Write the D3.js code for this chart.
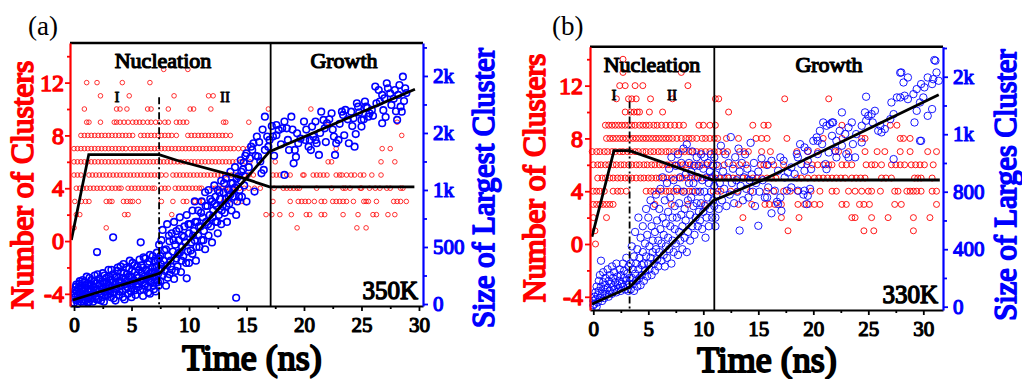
<!DOCTYPE html>
<html>
<head>
<meta charset="utf-8">
<script src="https://cdn.jsdelivr.net/npm/d3@7"></script>
<style>
  body { margin: 0; background: #fff; }
  svg { display: block; }
  /* bold serif is faked with a thin stroke on the regular face */
  svg text { font-family: "Liberation Serif", "Times New Roman", serif; font-weight: normal; stroke-linejoin: round; }
</style>
</head>
<body>
<svg id="chart" width="1022" height="379"></svg>
<script>
// ---------- panel (a), 350K ----------
// number of clusters: [value, [times (ns)]]
const countA = [
  [13, [7.8, 9.9]],
  [12, [1.1, 2.0, 4.2, 6.6]],
  [11, [2.3, 4.8, 8.7, 11.7, 12.1]],
  [10, [0.9, 3.7, 4.0, 4.6, 6.4, 6.7, 8.2, 10.1, 10.4, 11.9, 16.9, 20.6]],
  [9, [1.1, 1.3, 2.3, 3.5, 3.7, 4.0, 4.35, 4.7, 5.1, 5.4, 5.7, 6.0, 6.4, 6.7, 7.1, 7.45, 7.9, 8.2, 8.9, 9.2, 9.5, 9.8, 13.0, 13.2, 15.2, 22.1, 28.1]],
  [8, [0.6, 0.9, 1.2, 1.5, 1.8, 2.1, 2.4, 2.7, 3.0, 3.3, 3.6, 3.9, 4.2, 4.5, 4.8, 5.1, 5.8, 6.1, 6.4, 6.7, 7.0, 7.3, 7.6, 7.9, 8.2, 8.5, 8.9,
       9.9, 10.2, 10.5, 10.8, 11.1, 11.4, 11.7, 12.0, 12.3, 12.6, 12.9, 13.2, 13.6, 28.5]],
  [7, [0.0, 0.3, 0.6, 0.9, 1.2, 1.5, 1.8, 2.1, 2.4, 2.7, 3.0, 3.3, 3.6, 3.9, 4.2, 4.5, 4.9, 5.2, 5.5, 5.8, 6.1, 6.4, 6.7, 7.0, 7.3, 7.6,
       7.9, 8.2, 8.5, 8.8, 9.1, 9.4, 9.7, 10.0, 10.3, 10.6, 10.9, 11.2, 11.5, 11.8, 12.1, 12.4, 12.7, 13.0, 13.3, 13.6, 13.9, 14.3, 14.7, 15.1,
       22.8, 26.8, 27.5]],
  [6, [0.0, 0.3, 0.6, 0.9, 1.2, 1.5, 1.8, 2.1, 2.4, 2.7, 3.0, 3.3, 3.6, 3.9, 4.2, 4.5, 4.8, 5.1, 5.4, 5.7, 6.0, 6.3, 6.6, 6.9, 7.2, 7.5,
       7.8, 8.1, 8.4, 8.7, 9.0, 9.3, 9.6, 9.9, 10.2, 10.5, 10.8, 11.1, 11.4, 11.7, 12.0, 12.3, 12.6, 12.9, 13.2, 13.5, 13.8, 14.1, 14.5, 14.9, 15.3,
       17.5, 22.1, 22.4, 26.7, 27.9]],
  [5, [0.0, 0.3, 0.6, 1.3, 1.6, 1.9, 2.2, 2.5, 2.8, 3.1, 3.4, 3.7, 4.0, 4.3, 4.6, 4.9, 5.2, 5.5, 5.8, 6.1, 6.4, 6.7, 7.0, 7.3, 7.6, 8.0,
       8.6, 8.9, 9.2, 9.5, 9.8, 10.1, 10.4, 10.7, 11.0, 11.3, 11.6, 11.9, 12.2, 12.5, 12.8, 13.1, 13.4, 13.7, 14.0, 14.4, 14.8, 15.2, 15.6,
       17.3, 17.6, 17.9, 18.5, 18.8, 19.9, 20.0, 20.8, 21.1, 21.4, 21.7, 22.0, 22.8, 23.1, 23.3, 23.7, 24.1, 24.4, 24.9, 25.2, 25.9, 26.7]],
  [4, [0.2, 0.5, 0.8, 1.1, 1.4, 1.7, 2.0, 2.3, 2.6, 3.0, 3.3, 3.6, 3.9, 4.1, 4.7, 5.0, 5.3, 5.6, 5.9, 6.2, 6.5, 6.8, 7.0, 7.6, 7.9, 8.2,
       8.8, 9.1, 9.4, 9.7, 10.0, 10.3, 10.6, 10.9, 11.1, 12.0, 12.3, 12.6, 12.9, 13.2, 13.5, 13.8, 14.1, 14.4, 14.8, 15.2, 15.7, 16.2,
       17.4, 18.2, 18.5, 18.8, 19.1, 19.4, 19.6, 21.1, 22.4, 23.4, 23.6, 24.0, 24.9, 25.0, 25.7, 26.2, 26.6, 27.2, 27.5, 28.4, 28.6]],
  [3, [0.07, 0.64, 1.0, 1.3, 2.8, 3.1, 3.3, 4.3, 4.6, 4.9, 5.1, 5.6, 7.6, 8.6, 9.5, 9.8, 10.5, 10.9, 11.2, 13.0, 13.4, 14.0, 14.6,
       17.3, 18.8, 19.5, 19.8, 20.1, 20.4, 20.9, 21.5, 21.8, 22.5, 22.8, 23.1, 23.4, 23.7, 24.3, 25.2, 25.4, 25.6, 26.3, 27.8, 28.1, 28.4, 28.9]],
  [2, [0.2, 0.5, 4.4, 4.7, 8.5, 16.7, 17.2, 17.9, 18.9, 20.2, 20.5, 21.5, 21.8, 23.4, 24.7, 26.0, 26.3, 27.3, 27.9]],
  [1, [0.0, 2.8, 19.4, 24.6, 25.4]]
];
// size of largest cluster: [time (ns), size]
const sizeA = [
  [0.0,10],[0.1,60],[0.1,120],[0.2,30],[0.2,170],[0.3,80],[0.3,0],[0.4,140],[0.4,50],[0.5,100],[0.5,200],[0.6,20],[0.6,160],[0.7,70],
  [0.8,120],[0.8,40],[0.9,190],[0.9,90],[1.0,30],[1.0,140],[1.1,240],[1.1,60],[1.2,110],[1.2,10],[1.3,170],[1.3,20],[1.4,80],[1.5,130],
  [1.5,210],[1.6,50],[1.7,150],[1.7,100],[1.8,250],[1.9,70],[1.9,180],[2.0,120],[2.0,455],[2.1,40],[2.2,160],[2.2,220],[2.3,90],
  [2.4,130],[2.5,270],[2.5,60],[2.6,190],[2.6,20],[2.7,110],[2.8,150],[2.8,230],[2.9,80],[3.0,170],[3.0,300],[3.1,120],[3.2,60],
  [3.2,210],[3.3,150],[3.4,585],[3.4,260],[3.5,100],[3.6,180],[3.6,30],[3.7,240],[3.7,130],[3.8,320],[3.9,80],[4.0,200],[4.0,160],
  [4.1,280],[4.2,110],[4.3,230],[4.3,350],[4.4,170],[4.4,40],[4.5,130],[4.6,260],[4.6,200],[4.7,90],[4.8,310],[4.9,180],[5.0,240],
  [5.0,140],[5.0,60],[5.1,360],[5.2,210],[5.3,280],[5.3,120],[5.4,170],[5.5,330],[5.6,230],[5.6,150],[5.7,390],[5.8,541],[5.8,200],
  [5.9,270],[6.0,130],[6.0,320],[6.0,70],[6.1,240],[6.2,180],[6.2,400],[6.3,290],[6.4,150],[6.4,350],[6.5,220],[6.6,270],[6.6,430],
  [6.6,90],[6.7,190],[6.8,320],[6.8,240],[6.9,160],[7.0,380],[7.0,280],[7.1,220],[7.1,110],[7.2,330],[7.2,450],[7.3,260],[7.3,190],
  [7.4,400],[7.4,300],[7.4,520],
  [0.05,90],[0.15,150],[0.25,110],[0.35,40],[0.45,180],[0.55,60],[0.65,130],[0.75,210],[0.85,20],[0.95,160],[1.05,90],[1.15,180],
  [1.25,50],[1.35,230],[1.45,110],[1.55,170],[1.65,20],[1.75,200],[1.85,120],[1.95,40],[2.05,260],[2.15,110],[2.25,180],[2.35,30],
  [2.45,200],[2.55,140],[2.65,250],[2.75,70],[2.85,190],[2.95,120],[3.05,240],[3.15,90],[3.25,300],[3.35,190],[3.45,50],[3.55,230],
  [3.65,140],[3.75,290],[3.85,200],[3.95,110],[4.05,330],[4.15,190],[4.25,60],[4.35,270],[4.45,220],[4.55,320],[4.65,150],[4.75,240],
  [4.85,380],[4.95,110],[5.05,290],[5.15,200],[5.25,340],[5.35,80],[5.45,250],[5.55,180],[5.65,300],[5.75,120],[5.85,340],[5.95,220],
  [6.05,410],[6.15,160],[6.25,300],[6.35,230],[6.45,100],[6.55,370],[6.65,200],[6.75,280],[6.85,420],[6.95,130],[7.05,320],[7.15,250],
  [7.25,390],[7.35,160],
  [7.5,200],[7.5,420],[7.6,310],[7.6,560],[7.7,250],[7.7,650],[7.8,380],[7.9,290],[8.0,480],[8.0,160],[8.1,340],[8.1,700],[8.2,420],
  [8.3,260],[8.3,550],[8.4,380],[8.5,620],[8.5,300],[8.6,460],[8.7,720],[8.7,220],[8.8,520],[8.9,400],[8.9,640],[9.0,330],[9.1,560],
  [9.2,760],[9.2,450],[9.3,280],[9.4,600],[9.4,500],[9.5,420],[9.6,680],[9.7,540],[9.8,225],[9.8,780],[9.9,460],[10.0,620],[10.0,360],
  [10.1,700],[10.2,540],[10.3,820],[10.3,440],[10.4,640],[10.5,560],[10.5,900],[10.6,380],[10.7,720],[10.8,600],[10.8,820],[10.9,500],
  [11.0,680],[11.1,900],[11.1,560],[11.2,760],[11.3,640],[11.4,980],[11.4,480],[11.5,720],[11.6,860],[11.7,600],[11.7,1000],[11.8,780],
  [11.9,680],[12.0,900],[12.0,540],[12.1,820],[12.2,1040],[12.3,720],[12.3,940],[12.4,860],[12.5,620],[12.5,1000],[12.6,780],[12.7,920],
  [12.8,1080],[12.8,700],[12.9,860],[13.0,980],[13.1,800],[13.2,1100],[13.2,920],[13.3,720],[13.4,1000],[13.5,880],[13.6,1160],
  [13.6,960],[13.7,820],[13.8,1060],[13.9,940],[14.0,1200],[14.0,1020],[14.1,781],[14.1,55],[14.2,900],[14.3,1120],[14.4,1000],[14.5,1260],
  [14.5,1080],[14.6,940],[14.7,1180],[14.8,1040],[14.9,1300],[14.9,1120],
  [7.55,350],[7.85,470],[8.15,230],[8.25,600],[8.45,330],[8.65,560],[8.85,290],[9.05,440],[9.15,660],[9.35,380],[9.55,590],[9.75,360],
  [9.95,700],[10.15,470],[10.35,600],[10.55,720],[10.65,500],[10.85,680],[11.05,800],[11.25,560],[11.45,860],[11.65,700],[11.85,920],
  [12.05,760],[12.25,880],[12.45,720],[12.65,980],[12.85,820],[13.05,1060],[13.25,860],[13.45,940],[13.65,1060],[13.85,1000],[14.15,1100],
  [14.35,940],[14.55,1160],[14.75,1240],
  [15.0,1322],[15.3,1278],[15.6,1410],[15.9,1468],[15.5,1351],[16.0,1293],[16.3,1146],[16.5,1176],[16.6,1643],[16.8,1468],[16.6,1351],
  [17.0,1439],[17.3,1468],[17.6,1570],[17.8,1527],[18.1,1541],[18.5,1541],[18.6,1439],[18.9,1643],[19.2,1351],[19.4,1497],[19.5,1410],
  [20.0,1600],[20.1,1439],[20.4,1380],[20.5,1439],[20.7,1556],[20.8,1468],[21.0,1439],[21.1,1410],[21.3,1307],[21.5,1687],[21.7,1614],
  [21.8,1541],[22.0,1585],[22.4,1673],[22.6,1468],[22.7,1307],[22.8,1410],[23.0,1439],[23.3,1687],[23.4,1658],[23.6,1702],[23.9,1410],
  [24.1,1687],[24.3,1629],[24.4,1380],[24.6,1760],[24.7,1731],[25.0,1556],[25.0,1614],[25.3,1775],[25.4,1731],[25.6,1643],[25.7,1673],
  [25.9,1702],[26.2,1907],[26.5,1877],[26.6,1775],[26.8,1585],[26.8,1834],[27.0,1804],[27.2,1936],[27.3,1892],[27.5,1848],[27.6,1746],
  [27.9,1877],[28.1,1614],[28.2,1834],[28.4,1731],[28.5,1687],[28.6,1994],[28.8,1892],[18.3,1132],[19.1,1234],[15.7,986],[15.0,898],
  [15.2,1200],[15.4,1380],[15.8,1300],[16.1,1420],[16.2,1250],[16.4,1530],[16.9,1380],[17.2,1560],[17.4,1300],[17.6,1480],[18.0,1400],
  [18.3,1600],[18.7,1350],[19.0,1530],[19.3,1290],[19.7,1450],[20.2,1530],[20.6,1350],[21.0,1600],[21.4,1500],[21.9,1420],[22.2,1620],
  [22.5,1530],[23.1,1580],[23.5,1480],[23.8,1620],[24.2,1560],[24.5,1490],[24.8,1680],[25.2,1620],[25.5,1720],[26.0,1650],[26.3,1760],
  [26.9,1700],[27.1,1640],[27.8,1800],[28.0,1690],[28.3,1920],[28.7,1780],[28.9,1850]
];
const countFitA = [[-0.23, 0.08], [1.28, 6.55], [7.4, 6.55], [9.0, 6.1], [14.8, 4.75], [17.0, 4.1], [29.6, 4.1]];
const sizeFitA = [[-0.1, 35], [7.45, 269], [14.85, 1088], [17.0, 1336], [29.65, 1883]];
const sizeTicksA = [0, 500, 1000, 1500, 2000];
const sizeLabelsA = ["0", "500", "1k", "2k", "2k"];

// ---------- panel (b), 330K ----------
const countB = [
  [14, [2.7]],
  [13, [2.7, 8.0]],
  [12, [2.4, 2.9, 3.8, 4.5, 8.6]],
  [11, [2.1, 3.2, 3.5, 3.9, 5.2, 7.2, 11.1, 11.4, 17.4, 21.4]],
  [10, [2.9, 3.4, 3.7, 4.0, 4.2, 5.1, 6.3, 12.3]],
  [9, [1.1, 1.4, 1.7, 2.0, 2.3, 2.6, 2.9, 3.2, 3.5, 3.8, 4.2, 4.5, 4.8, 5.1, 5.5, 5.8, 6.2, 6.6, 7.0, 7.4, 7.8, 8.2,
       9.6, 10.0, 10.6, 11.1, 14.5, 15.5, 15.9, 22.6, 27.0, 27.6]],
  [8, [1.2, 1.5, 1.8, 2.1, 2.4, 2.7, 3.0, 3.3, 3.6, 3.9, 4.2, 4.5, 4.8, 5.1, 5.4, 5.7, 6.0, 6.3, 6.6, 6.9, 7.2, 7.6, 8.0, 8.4, 8.7, 9.0, 9.4,
       9.9, 10.2, 10.6, 11.0, 11.3, 12.1, 13.2, 14.8, 15.3, 15.8, 17.6, 20.9, 22.6, 24.4, 24.7, 27.9, 28.2, 28.8]],
  [7, [-0.1, 0.3, 0.6, 1.0, 1.3, 1.7, 2.0, 2.4, 2.7, 3.1, 3.4, 3.8, 4.1, 4.5, 4.8, 5.2, 5.5, 5.9, 6.2, 6.6, 6.9, 7.3, 7.6, 8.0, 8.3, 8.7,
       9.0, 9.4, 9.8, 10.2, 10.6, 11.0, 11.4, 11.8, 12.2, 13.3, 13.7, 14.1, 15.3,
       16.1, 18.5, 19.5, 20.4, 22.0, 22.3, 23.2, 24.7, 25.8, 26.5, 27.9, 28.8, 30.4, 31.2]],
  [6, [0.0, 0.4, 0.7, 1.1, 1.4, 1.8, 2.1, 2.5, 2.8, 3.2, 3.5, 3.9, 4.2, 4.6, 4.9, 5.3, 5.6, 6.0, 6.3, 6.7, 7.0, 7.4, 7.7, 8.1, 8.4, 8.8,
       9.1, 9.5, 9.9, 10.3, 10.7, 11.2, 11.9, 12.7, 13.3, 13.9, 15.2,
       15.5, 15.9, 16.4, 17.3, 19.4, 19.9, 20.4, 20.9, 21.4, 21.7, 22.6, 23.0, 23.5, 24.8, 25.3, 25.6, 26.2, 27.1, 27.5, 27.9, 28.3, 28.9,
       29.3, 29.7, 30.1, 30.9]],
  [5, [0.4, 0.8, 1.1, 1.5, 1.8, 2.2, 2.5, 2.9, 3.2, 3.5, 3.9, 4.3, 4.6, 5.0, 5.3, 5.7, 6.0, 6.4, 6.7, 7.1, 7.4, 7.8, 8.1, 8.5, 8.8, 9.2,
       9.5, 9.9, 10.3, 10.7, 11.1, 11.5, 11.9, 12.3, 12.7, 13.1, 13.6, 14.0, 14.5, 14.9, 15.3, 15.8, 16.2, 16.6,
       18.5, 18.9, 19.5, 20.1, 20.5, 20.9, 21.3, 21.7, 22.1, 22.5, 22.9, 23.5, 23.9, 24.3, 24.7, 26.2, 26.6, 27.1, 29.2, 29.5, 29.8, 30.8]],
  [4, [0.0, 0.3, 0.6, 1.0, 1.8, 2.2, 2.5, 3.0, 4.8, 5.2, 5.5, 5.9, 6.2, 6.6, 6.9, 7.3, 7.6, 8.0, 8.3, 8.7, 9.0, 9.5, 10.9, 11.3, 11.6,
       12.5, 13.1, 14.3, 15.75, 16.4, 17.3, 17.9, 18.6, 19.8, 20.6, 21.7, 22.1, 23.2, 23.8, 24.4, 25.0, 25.3, 26.1, 27.4, 27.7, 28.5,
       28.8, 29.1, 29.4, 29.8, 30.8, 31.2]],
  [3, [0.0, 0.3, 0.6, 0.9, 1.2, 1.5, 1.8, 5.6, 7.1, 8.6, 10.1, 13.2, 14.4, 15.6, 16.0, 16.5, 17.1, 18.6, 19.2, 19.6, 20.1, 20.6,
       22.6, 23.0, 24.2, 24.6, 25.1, 27.4, 28.0, 31.2]],
  [2, [0.0, 1.2, 13.6, 17.1, 18.7, 23.5, 23.8, 25.3, 26.8, 29.1, 30.6]],
  [1, [0.15, 17.7, 24.6, 25.5, 29.1]],
  [0, [0.2]]
];
const sizeB = [
  [0.0,10],[0.0,40],[0.1,70],[0.1,20],[0.2,100],[0.2,50],[0.3,0],[0.3,140],[0.4,80],[0.4,30],[0.5,180],[0.5,110],[0.6,60],[0.6,220],
  [0.7,320],[0.7,140],[0.8,90],[0.8,40],[0.9,170],[0.9,240],[1.0,120],[1.0,60],[1.1,200],[1.1,150],[1.2,90],[1.3,260],[1.3,130],
  [1.4,180],[1.4,70],[1.5,220],[1.5,110],[1.6,160],[1.7,280],[1.7,90],[1.8,200],[1.8,140],[1.9,120],[1.9,240],[2.0,170],[2.1,100],
  [2.1,300],[2.2,210],[2.2,150],[2.3,130],[2.4,260],[2.4,180],[2.5,110],[2.5,220],[2.6,160],[2.7,300],[2.7,140],[2.8,200],[2.8,250],
  [2.9,120],[3.0,180],[3.0,340],[3.1,230],[3.1,150],[3.2,280],[3.2,110],[3.3,200],[3.3,160],
  [3.4,120],[3.4,300],[3.5,200],[3.5,420],[3.6,160],[3.6,260],[3.7,350],[3.7,110],[3.8,230],[3.8,520],[3.9,180],[3.9,300],[4.0,140],
  [4.0,400],[4.1,260],[4.1,620],[4.2,200],[4.2,340],[4.3,150],[4.3,480],[4.4,290],[4.4,220],[4.5,560],[4.5,380],[4.6,180],[4.6,300],
  [4.7,440],[4.7,250],[4.8,680],[4.8,350],[4.9,210],[4.9,500],[5.0,300],[5.0,620],[5.1,260],[5.1,420],[5.2,740],[5.2,340],[5.3,220],
  [5.3,560],[5.4,380],[5.4,460],[5.5,300],[5.5,700],[5.6,250],[5.6,520],[5.7,400],[5.7,780],[5.8,330],[5.8,600],[5.9,460],[5.9,280],
  [6.0,680],[6.0,380],[6.1,540],[6.1,820],[6.2,320],[6.2,440],[6.3,620],[6.3,900],[6.4,360],[6.4,500],[6.5,740],[6.5,280],[6.6,580],
  [6.6,420],[6.7,860],[6.7,340],[6.8,660],[6.8,480],[6.9,960],[6.9,400],[7.0,560],[7.0,760],[7.1,300],[7.1,1040],[7.2,620],[7.2,460],
  [7.3,880],[7.3,380],[7.4,700],[7.4,540],[7.5,980],[7.5,440],[7.6,620],[7.6,820],[7.7,360],[7.7,1060],[7.8,520],[7.8,720],[7.9,900],
  [7.9,460],[8.0,640],[8.0,1000],[8.1,560],[8.1,400],[8.2,800],[8.2,1100],[8.3,480],[8.3,680],[8.4,920],[8.4,600],[8.5,1130],[8.5,380],
  [8.6,740],[8.6,520],[8.7,860],[8.7,1000],[8.8,640],[8.8,460],[8.9,940],[8.9,760],[9.0,560],[9.0,1080],[9.1,700],[9.1,860],[9.2,500],
  [9.2,980],[9.3,620],[9.3,800],[9.4,1040],[9.4,720],[9.5,560],[9.5,900],[9.6,660],[9.6,980],[9.7,800],[9.7,600],[9.8,1060],[9.8,720],
  [9.9,880],[9.9,540],[10.0,960],[10.0,660],[10.1,800],[10.1,1040],[10.2,700],[10.2,480],[10.3,900],[10.3,620],[10.4,1000],[10.4,760],
  [10.5,560],[10.5,860],[10.6,940],[10.6,680],[10.7,800],[10.7,1060],[10.8,620],[10.8,900],[10.9,740],[10.9,980],[11.0,1040],[11.0,840],
  [11.0,700],[11.1,560],[11.1,620],[11.1,920],
  [11.2,780],[11.3,980],[11.4,680],[11.5,860],[11.6,1120],[11.7,740],[11.8,940],[11.9,820],[12.0,1060],[12.1,700],[12.2,900],[12.3,1000],
  [12.4,780],[12.5,1180],[12.6,860],[12.7,960],[12.8,720],[12.9,1040],[13.0,880],[13.1,800],[13.2,1100],[13.3,530],[13.3,940],[13.4,840],
  [13.5,1000],[13.6,740],[13.7,900],[13.8,1060],[13.9,820],[14.0,960],[14.1,760],[14.2,880],[14.3,1140],[14.4,920],[14.5,800],[14.6,1000],
  [14.7,700],[14.8,860],[15.0,563],[15.0,940],[15.1,800],[15.3,1032],[15.4,880],[15.6,760],[15.8,986],
  [31.1,1711],[31.2,1630],[31.4,1572],[30.9,1583],[28.0,1630],[28.6,1595],[28.2,1560],[30.4,1595],[30.8,1549],[29.8,1549],[30.1,1526],
  [29.4,1514],[29.1,1479],[30.0,1456],[29.7,1421],[30.8,1375],[30.4,1328],[29.4,1363],[28.6,1444],[28.3,1468],[27.9,1456],[27.1,1421],
  [27.6,1456],[29.7,1154],[29.2,1282],[27.3,1340],[27.0,1305],[26.5,1236],[25.9,1224],[26.1,1259],[25.6,1363],[25.3,1340],[24.8,1294],
  [24.7,1352],[25.0,1328],[24.4,1259],[24.4,1143],[23.9,1201],[23.5,1282],[23.2,1247],[23.6,1131],[22.9,1201],[22.6,1352],[22.4,1224],
  [21.8,1282],[21.5,1270],[21.2,1259],[21.7,1189],[22.1,1154],[22.6,1120],[22.0,1085],[21.4,1073],[20.8,1131],[20.4,1154],[20.6,1224],
  [20.3,1178],[20.0,1154],[19.5,1085],[19.2,1108],[18.8,1131],[18.6,1039],[18.5,1062],[18.9,992],[19.5,1015],[20.4,1062],[21.1,992],
  [21.2,957],[22.1,1039],[23.2,1039],[23.8,1039],[23.0,1062],[19.2,946],[19.8,957],[18.0,969],[17.7,934],[17.3,1015],[17.0,1039],
  [16.2,1015],[16.8,946],[17.4,899],[18.3,923],[18.6,807],[17.6,807],[16.5,807],[15.9,830],[15.8,760],[16.8,714],[17.1,667],[17.0,760],
  [19.5,772],[19.4,714],[19.2,807],[24.8,1461],[27.3,1027],[29.8,1154],[25.4,1282],[26.2,1213],[20.9,1282],[21.7,1282],[16.2,650],
  [16.7,730],[19.1,780],[19.7,820],[18.0,830],[27.9,1628],[31.0,1716]
];
const countFitB = [[-0.12, 0.55], [1.88, 7.07], [3.3, 7.07], [10.9, 4.85], [31.5, 4.85]];
const sizeFitB = [[-0.12, 19], [3.3, 135], [10.9, 737], [15.6, 888], [31.4, 1475]];
const sizeTicksB = [0, 400, 800, 1200, 1600];
const sizeLabelsB = ["0", "400", "800", "1k", "2k"];

// shared ticks
const timeTicks = [0, 5, 10, 15, 20, 25, 30];
const timeMinor = [2.5, 7.5, 12.5, 17.5, 22.5, 27.5];
const countTicks = [-4, 0, 4, 8, 12];
const countMinor = [-2, 2, 6, 10, 14];

const svg = d3.select("#chart");
const RED = "#ff0000", BLUE = "#0000ff";

// regular serif + same-colour stroke looks like bold Times
function heavy(sel, size, color) {
  return sel.attr("font-size", size).attr("fill", color)
    .attr("stroke", color).attr("stroke-width", +(size * 0.055).toFixed(2));
}

function drawPanel(p) {
  const g = svg.append("g");
  const x = d3.scaleLinear().domain(p.xDomain).range([p.left, p.right]);
  const yC = d3.scaleLinear().domain(p.countDomain).range([p.bottom, p.top]);
  const yS = d3.scaleLinear().domain(p.sizeDomain).range([p.bottom, p.top]);

  // red: number of clusters
  const redPts = p.counts.flatMap(([v, ts]) => ts.map(t => [t, v]));
  g.append("g").selectAll("circle").data(redPts).join("circle")
    .attr("cx", d => x(d[0])).attr("cy", d => yC(d[1])).attr("r", p.redR)
    .attr("fill", "none").attr("stroke", RED).attr("stroke-width", p.redW);

  // blue: size of largest cluster
  g.append("g").selectAll("circle").data(p.sizes).join("circle")
    .attr("cx", d => x(d[0])).attr("cy", d => yS(d[1])).attr("r", p.blueR)
    .attr("fill", "none").attr("stroke", BLUE).attr("stroke-width", p.blueW);

  // phase separators
  g.append("line").attr("x1", x(p.growthAt)).attr("x2", x(p.growthAt))
    .attr("y1", p.top).attr("y2", p.bottom).attr("stroke", "#000").attr("stroke-width", 1.8);
  g.append("line").attr("x1", x(p.stageAt)).attr("x2", x(p.stageAt))
    .attr("y1", yC(p.stageTop)).attr("y2", p.bottom).attr("stroke", "#000").attr("stroke-width", 1.8)
    .attr("stroke-dasharray", "7,3,2,3");

  // fits
  const lc = d3.line().x(d => x(d[0])).y(d => yC(d[1]));
  const ls = d3.line().x(d => x(d[0])).y(d => yS(d[1]));
  g.append("path").attr("d", lc(p.countFit)).attr("fill", "none").attr("stroke", "#000").attr("stroke-width", 2.8);
  g.append("path").attr("d", ls(p.sizeFit)).attr("fill", "none").attr("stroke", "#000").attr("stroke-width", 2.8);

  // top frame
  g.append("line").attr("x1", p.left).attr("x2", p.right).attr("y1", p.top).attr("y2", p.top)
    .attr("stroke", "#000").attr("stroke-width", 2.6);

  // bottom axis
  const xa = g.append("g").attr("transform", `translate(0,${p.bottom})`)
    .call(d3.axisBottom(x).tickValues(timeTicks).tickSize(5).tickSizeOuter(0).tickPadding(6).tickFormat(d => String(d)));
  const xaMinor = g.append("g").attr("transform", `translate(0,${p.bottom})`)
    .call(d3.axisBottom(x).tickValues(timeMinor).tickSize(3).tickSizeOuter(0).tickFormat(""));
  xaMinor.select(".domain").remove();
  [xa, xaMinor].forEach(a => a.selectAll("line").attr("stroke", "#000").attr("stroke-width", 1.8));
  xa.select(".domain").attr("stroke", "#000").attr("stroke-width", 2);
  heavy(xa.selectAll("text"), 21, "#000");

  // red left axis
  const ya = g.append("g").attr("transform", `translate(${p.left},0)`)
    .call(d3.axisLeft(yC).tickValues(countTicks).tickSize(5).tickSizeOuter(0).tickPadding(p.redPad).tickFormat(d => String(d)));
  const yaMinor = g.append("g").attr("transform", `translate(${p.left},0)`)
    .call(d3.axisLeft(yC).tickValues(countMinor).tickSize(3).tickSizeOuter(0).tickFormat(""));
  yaMinor.select(".domain").remove();
  [ya, yaMinor].forEach(a => a.selectAll("line").attr("stroke", RED).attr("stroke-width", 1.8));
  ya.select(".domain").attr("stroke", RED).attr("stroke-width", 2.2);
  heavy(ya.selectAll("text"), 24, RED);

  // blue right axis
  const sMinor = p.sizeTicks.slice(0, -1).map((v, i) => (v + p.sizeTicks[i + 1]) / 2)
    .concat([p.sizeTicks[p.sizeTicks.length - 1] + (p.sizeTicks[1] - p.sizeTicks[0]) / 2]);
  const ra = g.append("g").attr("transform", `translate(${p.right},0)`)
    .call(d3.axisRight(yS).tickValues(p.sizeTicks).tickSize(5).tickSizeOuter(0).tickPadding(5)
      .tickFormat((d, i) => p.sizeLabels[i]));
  const raMinor = g.append("g").attr("transform", `translate(${p.right},0)`)
    .call(d3.axisRight(yS).tickValues(sMinor).tickSize(4).tickSizeOuter(0).tickFormat(""));
  raMinor.select(".domain").remove();
  [ra, raMinor].forEach(a => a.selectAll("line").attr("stroke", BLUE).attr("stroke-width", 1.8));
  ra.select(".domain").attr("stroke", BLUE).attr("stroke-width", 2.2);
  heavy(ra.selectAll("text"), 21, BLUE);

  // labels
  g.append("text").attr("x", p.tagX).attr("y", 35).attr("font-size", 27).text(p.tag);
  heavy(g.append("text").attr("x", p.nucX).attr("y", p.phaseY).attr("text-anchor", "middle"), 22, "#000").text("Nucleation");
  heavy(g.append("text").attr("x", p.growX).attr("y", p.phaseY).attr("text-anchor", "middle"), 22, "#000").text("Growth");
  heavy(g.append("text").attr("x", p.iX).attr("y", p.iY).attr("text-anchor", "middle"), 15, "#000").text("I");
  heavy(g.append("text").attr("x", p.iiX).attr("y", p.iY).attr("text-anchor", "middle"), 15, "#000").text("II");
  heavy(g.append("text").attr("x", p.right - 5).attr("y", p.bottom - 7).attr("text-anchor", "end"), 25, "#000").text(p.temp);

  heavy(g.append("text").attr("transform", `translate(${p.redTitleX},${p.redTitleY}) rotate(-90)`)
    .attr("text-anchor", "middle"), 31.5, RED).text("Number of Clusters");
  heavy(g.append("text").attr("transform", `translate(${p.blueTitleX},${p.blueTitleY}) rotate(-90)`)
    .attr("text-anchor", "middle"), 30.5, BLUE).text(p.blueTitle);
  heavy(g.append("text").attr("x", p.timeX).attr("y", p.timeY).attr("text-anchor", "middle"), 36, "#000").text("Time (ns)");
}

drawPanel({
  left: 70, right: 423, top: 43, bottom: 306,
  xDomain: [-0.35, 30.35], countDomain: [-4.92, 15.0], sizeDomain: [-17.5, 2289],
  counts: countA, sizes: sizeA, countFit: countFitA, sizeFit: sizeFitA,
  sizeTicks: sizeTicksA, sizeLabels: sizeLabelsA,
  redR: 2.3, redW: 0.8, blueR: 3.3, blueW: 1.6, redPad: 1,
  growthAt: 17.1, stageAt: 7.4, stageTop: 10.9,
  tag: "(a)", tagX: 28, nucX: 163, growX: 344, phaseY: 68, iX: 117, iiX: 225, iY: 102, temp: "350K",
  redTitleX: 33, redTitleY: 185, blueTitleX: 494, blueTitleY: 188, blueTitle: "Size of Largest Cluster",
  timeX: 252, timeY: 370
});

drawPanel({
  left: 590, right: 943, top: 46.7, bottom: 310,
  xDomain: [-0.3, 31.79], countDomain: [-5.0, 14.95], sizeDomain: [-23, 1809],
  counts: countB, sizes: sizeB, countFit: countFitB, sizeFit: sizeFitB,
  sizeTicks: sizeTicksB, sizeLabels: sizeLabelsB,
  redR: 3.0, redW: 0.9, blueR: 3.7, blueW: 0.9, redPad: 2,
  growthAt: 11.0, stageAt: 3.3, stageTop: 10.8,
  tag: "(b)", tagX: 552, nucX: 652, growX: 829, phaseY: 72, iX: 614, iiX: 672, iY: 100, temp: "330K",
  redTitleX: 545, redTitleY: 178, blueTitleX: 1016, blueTitleY: 185, blueTitle: "Size of Larges Cluster",
  timeX: 767, timeY: 372
});
</script>
</body>
</html>
